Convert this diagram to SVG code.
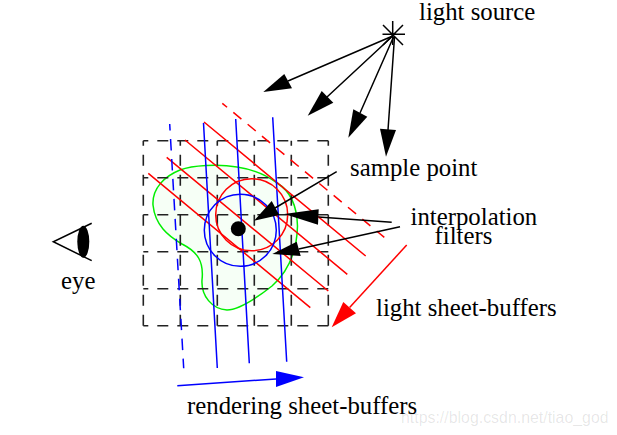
<svg xmlns="http://www.w3.org/2000/svg" width="617" height="435" viewBox="0 0 617 435">
<style>
text{font-family:"Liberation Serif","Times New Roman",serif;font-size:24.800px;fill:#000}
.k{stroke:#000;stroke-width:1.5;fill:none}
.grid{stroke:#222;stroke-width:1.600;fill:none;stroke-dasharray:11 9;stroke-dashoffset:6}
.r{stroke:#f00;stroke-width:1.500;fill:none}
.b{stroke:#00f;stroke-width:1.500;fill:none}
.rd{stroke-dasharray:10.500 8.100;stroke-dashoffset:4.300}
.bd{stroke-dasharray:11.500 8.500;stroke-dashoffset:5}
</style>
<rect width="617" height="435" fill="#fff"/>
<g id="blob"><path d="M206 165.500C232 164 258 169 277 183C292 192 297 207 297.500 226C297 248 290 270 272 286C258 297 240 310 227 310C212 309 201 296 202 280C204 262 198 252 182 244C168 236 155 225 153 205C152 188 165 176 180 170C188 167 197 166 206 165.500Z" fill="#f6fff6" stroke="#0e0" stroke-width="1.500"/></g>
<g id="grid">
<path class="grid" d="M143.300 140.700H328.300M143.300 177.700H328.300M143.300 214.700H328.300M143.300 251.700H328.300M143.300 288.700H328.300M143.300 325.700H328.300M143.300 140.700V325.700M180.300 140.700V325.700M217.300 140.700V325.700M254.300 140.700V325.700M291.300 140.700V325.700M328.300 140.700V325.700"/>
</g>
<g id="light-sheets">
<path class="r" d="M204 122L365.700 256M185 140L347.300 274.300M166.700 157.300L328.300 291M148.300 173.300L310.300 307.700"/>
<path class="r rd" d="M222.300 103.300L384.300 237.300"/>
</g>
<g id="render-sheets">
<path class="b" d="M203.500 123L217.300 368M235.700 119L249.300 363.300M272.700 117.300L286.700 361.700"/>
<path class="b bd" d="M169.700 124L183.700 368.300"/>
</g>
<g id="filters">
<circle cx="251.700" cy="214.700" r="36" class="r"/>
<circle cx="240.300" cy="230.300" r="36" class="b"/>
</g>
<g id="sample-point"><ellipse cx="238.300" cy="228.700" rx="7.500" ry="7.500" fill="#000"/></g>
<g id="light-source"><path class="k" d="M382.500 34.300H405M392.700 21V45M383 25L403 45M403 25L383 45"/><circle cx="392.700" cy="34.300" r="1.500"/></g>
<g id="eye"><path class="k" d="M91.700 223.300L53.300 241.700L91.700 260.700"/><ellipse cx="83.300" cy="241.700" rx="6" ry="16" fill="#000"/></g>
<g id="connectors">
<path class="k" d="M392.700 36L288 81M392.700 36L327 97M393.500 37L360 113M394.500 37L388 130M336.700 171.700L275 208M391.700 222.300L318.500 217M400 226.700L298.700 249"/>
<path d="M263.300 92L284.300 74L292 88.300Z"/>
<path d="M307.700 115.700L321.700 91L333.300 102.700Z"/>
<path d="M348.300 137.700L353.300 109.300L367.300 116.700Z"/>
<path d="M386 156.700L380 128.700L396 130Z"/>
<path d="M254 220.700L271.700 201L279.300 215Z"/>
<path d="M284.300 214L318.700 209.300L318 224.700Z"/>
<path d="M272.300 254L296.700 241.700L300.700 256Z"/>
<path class="r" d="M406.700 245L349.600 307.600"/>
<path d="M331.700 327.300L343.300 302L356 313.300Z" fill="#f00"/>
<path class="b" d="M177.300 385.700L276 379"/>
<path d="M304 377.300L276 371L276 387Z" fill="#00f"/>
</g>
<g id="labels">
<text x="419" y="20">light source</text>
<text x="350" y="176">sample point</text>
<text x="410.500" y="225">interpolation</text>
<text x="434.500" y="244">filters</text>
<text x="376" y="316">light sheet-buffers</text>
<text x="187" y="414">rendering sheet-buffers</text>
<text x="61" y="289">eye</text>
<text x="401" y="423" style="font-family:'Liberation Sans',Arial,sans-serif;font-size:15.900px;fill:#000;fill-opacity:.1">https://blog.csdn.net/tiao_god</text>
</g>
</svg>
